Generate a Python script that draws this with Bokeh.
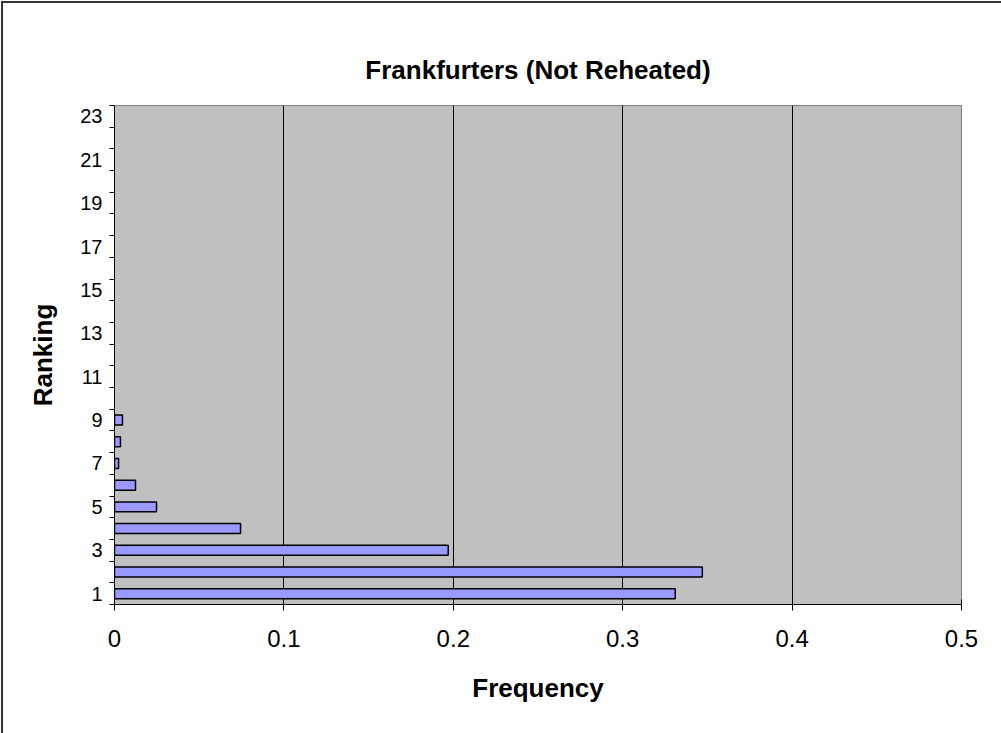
from bokeh.plotting import figure
from bokeh.models import FixedTicker, Range1d, ColumnDataSource
from bokeh.embed import file_html
from bokeh.resources import INLINE

# ---- data ----
title_text = "Frankfurters (Not Reheated)"
x_title = "Frequency"
y_title = "Ranking"
ranks = list(range(1, 24))
freq = [0.331, 0.347, 0.197, 0.0744, 0.0248, 0.0124, 0.0024, 0.0035, 0.0047,
        0, 0, 0, 0, 0, 0, 0, 0, 0, 0, 0, 0, 0, 0]
x_ticks = [0, 0.1, 0.2, 0.3, 0.4, 0.5]
x_tick_labels = ["0", "0.1", "0.2", "0.3", "0.4", "0.5"]
y_label_ticks = [1, 3, 5, 7, 9, 11, 13, 15, 17, 19, 21, 23]

FONT = "Liberation Sans"

p = figure(width=998, height=730, output_backend="svg", toolbar_location=None,
           x_range=Range1d(0, 0.5), y_range=Range1d(0.5, 23.5),
           min_border_left=111, min_border_right=40, min_border_top=102,
           min_border_bottom=129, margin=(3, 0, 0, 3),
           styles={"outline": "2px solid #333333",
                   "clip-path": "inset(-3px 0px 0px -3px)"})

p.title.text = title_text
p.title.align = "center"
p.title.text_font = FONT
p.title.text_font_size = "26px"
p.title.text_font_style = "bold"
p.title.text_color = "black"
p.title.standoff = 41

p.background_fill_color = "#C0C0C0"
p.border_fill_color = "white"
p.outline_line_color = "#808080"
p.outline_line_width = 1

# x axis
xa = p.xaxis[0]
xa.ticker = FixedTicker(ticks=x_ticks)
xa.major_label_overrides = {t: l for t, l in zip(x_ticks, x_tick_labels)}
xa.minor_tick_line_color = None
xa.major_tick_in = 5
xa.major_tick_out = 6
xa.axis_line_color = "black"
xa.major_tick_line_color = "black"
xa.major_label_text_font = FONT
xa.major_label_text_font_size = "24px"
xa.major_label_text_color = "black"
xa.major_label_standoff = 19
xa.axis_label = x_title
xa.axis_label_text_font = FONT
xa.axis_label_text_font_size = "26px"
xa.axis_label_text_font_style = "bold"
xa.axis_label_text_color = "black"
xa.axis_label_standoff = 23

# y axis
ya = p.yaxis[0]
boundaries = [r - 0.5 for r in ranks] + [ranks[-1] + 0.5]
ya.ticker = FixedTicker(ticks=y_label_ticks, minor_ticks=boundaries)
ya.major_tick_in = 0
ya.major_tick_out = 0
ya.minor_tick_in = 0
ya.minor_tick_out = 5
ya.minor_tick_line_color = "black"
ya.axis_line_color = "black"
ya.major_label_text_font = FONT
ya.major_label_text_font_size = "20px"
ya.major_label_text_color = "black"
ya.major_label_standoff = 7
ya.axis_label = y_title
ya.axis_label_text_font = FONT
ya.axis_label_text_font_size = "26px"
ya.axis_label_text_font_style = "bold"
ya.axis_label_text_color = "black"
ya.axis_label_standoff = 19

p.xgrid.ticker = FixedTicker(ticks=[t for t in x_ticks if 0 < t < 0.5])
p.xgrid.grid_line_color = "black"
p.xgrid.grid_line_width = 1
p.ygrid.grid_line_color = None

src = ColumnDataSource(dict(
    y=[r for r, f in zip(ranks, freq) if f > 0],
    right=[f for f in freq if f > 0],
))
p.hbar(y="y", left=0, right="right", height=0.46, source=src,
       fill_color="#9999FF", line_color="black", line_width=1.5)

open("out.html", "w").write(file_html(p, INLINE))
